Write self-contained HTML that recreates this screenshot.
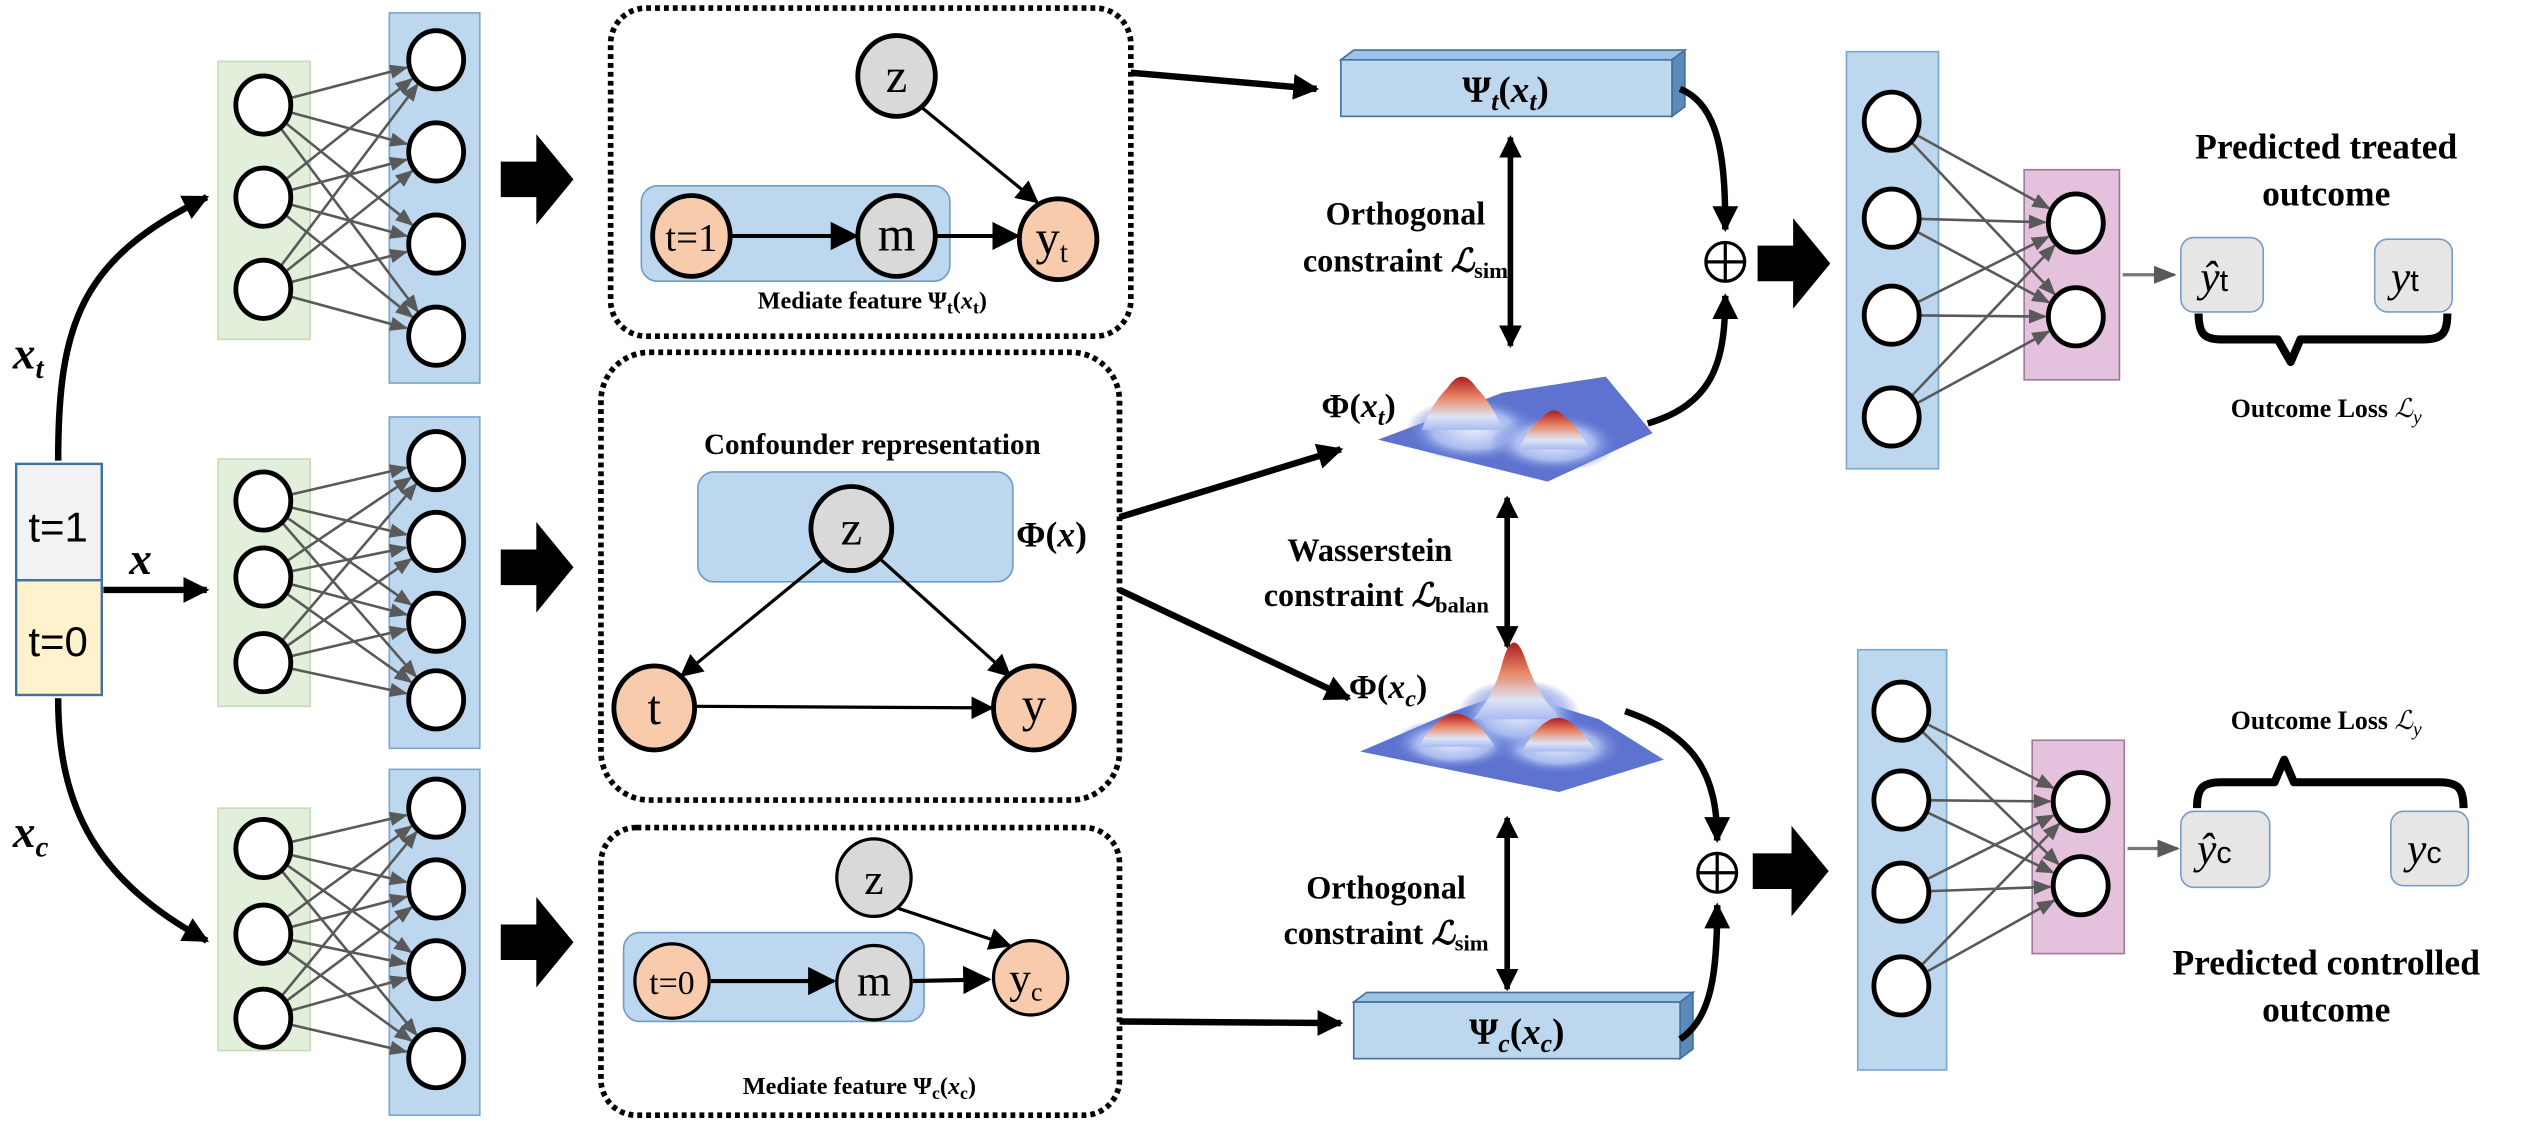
<!DOCTYPE html>
<html><head><meta charset="utf-8"><style>
html,body{margin:0;padding:0;background:#fff;}
svg{display:block;}
text{font-family:"Liberation Serif",serif;font-weight:bold;fill:#000;}
.it{font-style:italic;}
.n{font-weight:normal;}
</style></head><body>
<svg id="s" width="2533" height="1133" viewBox="0 0 1568 701" preserveAspectRatio="none" xmlns="http://www.w3.org/2000/svg">
<defs>
<marker id="ah" viewBox="0 0 10 10" refX="9" refY="5" markerWidth="4" markerHeight="4" orient="auto-start-reverse"><path d="M0,0L10,5L0,10z" fill="#000"/></marker>
<marker id="ahs" viewBox="0 0 10 10" refX="9" refY="5" markerWidth="7" markerHeight="7" orient="auto"><path d="M0,0L10,5L0,10z" fill="#000"/></marker>
<marker id="ag" viewBox="0 0 10 10" refX="9" refY="5" markerWidth="7" markerHeight="7" orient="auto"><path d="M0,1L10,5L0,9z" fill="#595959"/></marker>
<linearGradient id="pk" x1="0" y1="0" x2="0" y2="1"><stop offset="0" stop-color="#b01c1c"/><stop offset="0.4" stop-color="#e8896a"/><stop offset="0.75" stop-color="#dde4f5"/><stop offset="1" stop-color="#a9baf0"/></linearGradient>
<radialGradient id="gl" cx="0.5" cy="0.5" r="0.5"><stop offset="0" stop-color="#e4ecfb"/><stop offset="0.6" stop-color="#a8baf0"/><stop offset="1" stop-color="#5d73cf" stop-opacity="0"/></radialGradient>
</defs>

<rect x="10" y="287" width="53" height="72" fill="#f2f2f2" stroke="#41719c" stroke-width="1.5"/>
<rect x="10" y="359" width="53" height="71" fill="#fff2cc" stroke="#41719c" stroke-width="1.5"/>
<text x="36" y="335" text-anchor="middle" font-size="26" style="font-family:'Liberation Sans',sans-serif;font-weight:normal">t=1</text>
<text x="36" y="406" text-anchor="middle" font-size="26" style="font-family:'Liberation Sans',sans-serif;font-weight:normal">t=0</text>

<path d="M36,285 C36,200 50,160 128,122" fill="none" stroke="#000" stroke-width="4" marker-end="url(#ah)"/>
<path d="M36,432 C36,500 60,545 128,582" fill="none" stroke="#000" stroke-width="4" marker-end="url(#ah)"/>
<path d="M64,365 L128,365" fill="none" stroke="#000" stroke-width="4" marker-end="url(#ah)"/>
<text x="8" y="228" class="it" font-size="28">x<tspan font-size="18" dy="6">t</tspan></text>
<text x="80" y="355" class="it" font-size="28">x</text>
<text x="8" y="524" class="it" font-size="28">x<tspan font-size="18" dy="6">c</tspan></text>

<g id="nets"></g>

<g fill="#000">
<path d="M310,100 h22 v-17 l23,28 l-23,28 v-17 h-22z"/>
<path d="M310,340 h22 v-17 l23,28 l-23,28 v-17 h-22z"/>
<path d="M310,572 h22 v-17 l23,28 l-23,28 v-17 h-22z"/>
<path d="M1088,152 h22 v-17 l23,28 l-23,28 v-17 h-22z"/>
<path d="M1085,528 h24 v-17 l23,28 l-23,28 v-17 h-24z"/>
</g>

<g fill="none" stroke="#000" stroke-width="3.5" stroke-dasharray="3,2.5">
<rect x="378" y="5" width="322" height="203" rx="22"/>
<rect x="372" y="218" width="321" height="277" rx="30"/>
<rect x="372" y="512" width="321" height="178" rx="22"/>
</g>

<rect x="397" y="115" width="191" height="59" rx="10" fill="#bdd7ee" stroke="#6f9ccc" stroke-width="1"/>
<line x1="570" y1="66" x2="642" y2="125" stroke="#000" stroke-width="2" marker-end="url(#ahs)"/>
<line x1="452" y1="146" x2="530" y2="146" stroke="#000" stroke-width="2.5" marker-end="url(#ahs)"/>
<line x1="580" y1="146" x2="630" y2="146" stroke="#000" stroke-width="2.5" marker-end="url(#ahs)"/>
<ellipse cx="555" cy="47" rx="24" ry="25" fill="#d9d9d9" stroke="#000" stroke-width="3"/>
<ellipse cx="428" cy="146" rx="24" ry="25" fill="#f8cbad" stroke="#000" stroke-width="3"/>
<ellipse cx="555" cy="146" rx="24" ry="25" fill="#d9d9d9" stroke="#000" stroke-width="3"/>
<ellipse cx="655" cy="148" rx="24" ry="25" fill="#f8cbad" stroke="#000" stroke-width="3"/>
<text x="555" y="57" text-anchor="middle" font-size="30" class="n">z</text>
<text x="428" y="155" text-anchor="middle" font-size="24" class="n">t=1</text>
<text x="555" y="155" text-anchor="middle" font-size="30" class="n">m</text>
<text x="651" y="157" text-anchor="middle" font-size="30" class="n">y<tspan font-size="18" dy="5">t</tspan></text>
<text x="540" y="191" text-anchor="middle" font-size="15">Mediate feature Ψ<tspan font-size="11" dy="3">t</tspan><tspan dy="-3">(</tspan><tspan class="it">x</tspan><tspan font-size="11" dy="3">t</tspan><tspan dy="-3">)</tspan></text>

<text x="540" y="281" text-anchor="middle" font-size="18">Confounder representation</text>
<rect x="432" y="292" width="195" height="68" rx="10" fill="#bdd7ee" stroke="#6f9ccc" stroke-width="1"/>
<line x1="510" y1="346" x2="422" y2="418" stroke="#000" stroke-width="2" marker-end="url(#ahs)"/>
<line x1="545" y1="346" x2="625" y2="418" stroke="#000" stroke-width="2" marker-end="url(#ahs)"/>
<line x1="430" y1="437" x2="614" y2="438" stroke="#000" stroke-width="2" marker-end="url(#ahs)"/>
<ellipse cx="527" cy="327" rx="25" ry="26" fill="#d9d9d9" stroke="#000" stroke-width="3"/>
<ellipse cx="405" cy="438" rx="25" ry="26" fill="#f8cbad" stroke="#000" stroke-width="3"/>
<ellipse cx="640" cy="438" rx="25" ry="26" fill="#f8cbad" stroke="#000" stroke-width="3"/>
<text x="527" y="337" text-anchor="middle" font-size="30" class="n">z</text>
<text x="405" y="448" text-anchor="middle" font-size="30" class="n">t</text>
<text x="640" y="446" text-anchor="middle" font-size="30" class="n">y</text>
<text x="629" y="338" font-size="22">Φ(<tspan class="it">x</tspan>)</text>

<rect x="386" y="577" width="186" height="55" rx="10" fill="#bdd7ee" stroke="#6f9ccc" stroke-width="1"/>
<line x1="556" y1="562" x2="625" y2="585" stroke="#000" stroke-width="2" marker-end="url(#ahs)"/>
<line x1="440" y1="607" x2="516" y2="607" stroke="#000" stroke-width="2.5" marker-end="url(#ahs)"/>
<line x1="565" y1="607" x2="612" y2="606" stroke="#000" stroke-width="2.5" marker-end="url(#ahs)"/>
<ellipse cx="541" cy="543" rx="23" ry="24" fill="#d9d9d9" stroke="#000" stroke-width="2"/>
<ellipse cx="416" cy="607" rx="23" ry="23" fill="#f8cbad" stroke="#000" stroke-width="2"/>
<ellipse cx="541" cy="608" rx="23" ry="23" fill="#d9d9d9" stroke="#000" stroke-width="2"/>
<ellipse cx="638" cy="605" rx="23" ry="23" fill="#f8cbad" stroke="#000" stroke-width="2"/>
<text x="541" y="553" text-anchor="middle" font-size="27" class="n">z</text>
<text x="416" y="615" text-anchor="middle" font-size="21" class="n">t=0</text>
<text x="541" y="616" text-anchor="middle" font-size="27" class="n">m</text>
<text x="635" y="614" text-anchor="middle" font-size="27" class="n">y<tspan font-size="16" dy="5">c</tspan></text>
<text x="532" y="677" text-anchor="middle" font-size="15">Mediate feature  Ψ<tspan font-size="11" dy="3">c</tspan><tspan dy="-3">(</tspan><tspan class="it">x</tspan><tspan font-size="11" dy="3">c</tspan><tspan dy="-3">)</tspan></text>

<path d="M700,45 L815,55" stroke="#000" stroke-width="4" fill="none" marker-end="url(#ah)"/>
<path d="M693,632 L830,633" stroke="#000" stroke-width="4" fill="none" marker-end="url(#ah)"/>
<path d="M693,320 L830,278" stroke="#000" stroke-width="4" fill="none" marker-end="url(#ah)"/>
<path d="M693,365 L835,432" stroke="#000" stroke-width="4" fill="none" marker-end="url(#ah)"/>

<g stroke="#41719c" stroke-width="1">
<path d="M830,37 l8,-6 h205 l-8,6z" fill="#9dc3e6"/>
<path d="M1035,37 l8,-6 v35 l-8,6z" fill="#5b8ab8"/>
<rect x="830" y="37" width="205" height="35" fill="#bdd7ee"/>
<path d="M838,620 l8,-6 h202 l-8,6z" fill="#9dc3e6"/>
<path d="M1040,620 l8,-6 v35 l-8,6z" fill="#5b8ab8"/>
<rect x="838" y="620" width="202" height="35" fill="#bdd7ee"/>
</g>
<text x="932" y="63" text-anchor="middle" font-size="23">Ψ<tspan class="it" font-size="16" dy="5">t</tspan><tspan dy="-5">(</tspan><tspan class="it">x</tspan><tspan class="it" font-size="16" dy="5">t</tspan><tspan dy="-5">)</tspan></text>
<text x="939" y="646" text-anchor="middle" font-size="23">Ψ<tspan class="it" font-size="16" dy="5">c</tspan><tspan dy="-5">(</tspan><tspan class="it">x</tspan><tspan class="it" font-size="16" dy="5">c</tspan><tspan dy="-5">)</tspan></text>

<g>
<path d="M853,272 L930,243 L994,233 L1023,268 L958,298 Z" fill="#5d73cf"/>
<ellipse cx="912" cy="266" rx="42" ry="20" fill="url(#gl)"/>
<ellipse cx="962" cy="274" rx="40" ry="18" fill="url(#gl)"/>
<path d="M880,266 Q886,250 896,240 Q905,226 914,240 Q924,250 930,266 Z" fill="url(#pk)"/>
<path d="M940,278 Q946,265 955,258 Q962,250 969,258 Q978,265 984,278 Z" fill="url(#pk)"/>

<path d="M842,465 L900,440 L935,428 L990,445 L1030,470 L965,490 Z" fill="#5d73cf"/>
<ellipse cx="900" cy="460" rx="38" ry="16" fill="url(#gl)"/>
<ellipse cx="965" cy="462" rx="40" ry="17" fill="url(#gl)"/>
<ellipse cx="940" cy="442" rx="38" ry="22" fill="url(#gl)"/>
<path d="M912,445 Q925,430 930,410 Q937,385 945,410 Q952,430 966,445 Z" fill="url(#pk)"/>
<path d="M878,462 Q888,445 898,442 Q906,440 914,448 Q922,455 925,462 Z" fill="url(#pk)"/>
<path d="M942,465 Q950,450 960,445 Q968,442 976,450 Q984,458 988,465 Z" fill="url(#pk)"/>
</g>
<text x="818" y="258" font-size="21">Φ(<tspan class="it">x</tspan><tspan class="it" font-size="15" dy="5">t</tspan><tspan dy="-5">)</tspan></text>
<text x="835" y="432" font-size="21">Φ(<tspan class="it">x</tspan><tspan class="it" font-size="15" dy="5">c</tspan><tspan dy="-5">)</tspan></text>

<g stroke="#000" stroke-width="3.5" fill="none">
<line x1="935" y1="85" x2="935" y2="214" marker-start="url(#ah)" marker-end="url(#ah)"/>
<line x1="933" y1="308" x2="933" y2="400" marker-start="url(#ah)" marker-end="url(#ah)"/>
<line x1="933" y1="506" x2="933" y2="612" marker-start="url(#ah)" marker-end="url(#ah)"/>
</g>
<text x="870" y="139" text-anchor="middle" font-size="20">Orthogonal</text>
<text x="870" y="168" text-anchor="middle" font-size="20">constraint <tspan class="it">ℒ</tspan><tspan font-size="14" dy="4">sim</tspan></text>
<text x="848" y="347" text-anchor="middle" font-size="20">Wasserstein</text>
<text x="852" y="375" text-anchor="middle" font-size="20">constraint  <tspan class="it">ℒ</tspan><tspan font-size="14" dy="4">balan</tspan></text>
<text x="858" y="556" text-anchor="middle" font-size="20">Orthogonal</text>
<text x="858" y="584" text-anchor="middle" font-size="20">constraint <tspan class="it">ℒ</tspan><tspan font-size="14" dy="4">sim</tspan></text>

<g stroke="#000" stroke-width="4" fill="none">
<path d="M1040,55 C1065,65 1068,100 1068,142" marker-end="url(#ah)"/>
<path d="M1020,262 C1060,250 1068,225 1068,183" marker-end="url(#ah)"/>
<path d="M1006,440 C1050,455 1063,480 1063,520" marker-end="url(#ah)"/>
<path d="M1040,643 C1060,630 1063,600 1063,560" marker-end="url(#ah)"/>
</g>
<g stroke="#000" stroke-width="2" fill="#fff">
<circle cx="1068" cy="162" r="12"/><line x1="1056" y1="162" x2="1080" y2="162"/><line x1="1068" y1="150" x2="1068" y2="174"/>
<circle cx="1063" cy="540" r="12"/><line x1="1051" y1="540" x2="1075" y2="540"/><line x1="1063" y1="528" x2="1063" y2="552"/>
</g>

<g stroke="#777" stroke-width="2" fill="none">
<line x1="1314" y1="170" x2="1346" y2="170" marker-end="url(#ag)"/>
<line x1="1317" y1="525" x2="1348" y2="525" marker-end="url(#ag)"/>
</g>
<g fill="#e7e6e6" stroke="#7a9cc4" stroke-width="1">
<rect x="1350" y="147" width="51" height="46" rx="8"/>
<rect x="1470" y="148" width="48" height="45" rx="8"/>
<rect x="1350" y="502" width="55" height="47" rx="8"/>
<rect x="1480" y="502" width="48" height="46" rx="8"/>
</g>
<g font-size="27">
<text x="1362" y="180" class="it n">ŷ<tspan font-size="19" font-style="normal" style="font-family:'Liberation Sans'">t</tspan></text>
<text x="1480" y="180" class="it n">y<tspan font-size="19" font-style="normal" style="font-family:'Liberation Sans'">t</tspan></text>
<text x="1360" y="534" class="it n">ŷ<tspan font-size="19" font-style="normal" style="font-family:'Liberation Sans'">c</tspan></text>
<text x="1490" y="534" class="it n">y<tspan font-size="19" font-style="normal" style="font-family:'Liberation Sans'">c</tspan></text>
</g>
<g stroke="#000" stroke-width="5" fill="none" stroke-linejoin="round">
<path d="M1361,194 C1361,206 1364,210 1375,210 L1410,210 L1418,224 L1424,210 L1500,210 C1512,210 1515,206 1515,194"/>
<path d="M1360,500 C1360,488 1363,484 1375,484 L1408,484 L1414,470 L1420,484 L1510,484 C1522,484 1525,488 1525,500"/>
</g>
<text x="1440" y="98" text-anchor="middle" font-size="22">Predicted treated</text>
<text x="1440" y="127" text-anchor="middle" font-size="22">outcome</text>
<text x="1440" y="258" text-anchor="middle" font-size="16">Outcome Loss <tspan class="it n">ℒ<tspan font-size="12" dy="4">y</tspan></tspan></text>
<text x="1440" y="451" text-anchor="middle" font-size="16">Outcome Loss <tspan class="it n">ℒ<tspan font-size="12" dy="4">y</tspan></tspan></text>
<text x="1440" y="603" text-anchor="middle" font-size="22">Predicted controlled</text>
<text x="1440" y="632" text-anchor="middle" font-size="22">outcome</text>
</svg>
<script>
(function(){
var ns="http://www.w3.org/2000/svg",g=document.getElementById("nets");
function el(t,a){var e=document.createElementNS(ns,t);for(var k in a)e.setAttribute(k,a[k]);g.appendChild(e);return e;}
function net(lx,ly,lw,lh,lc,lfill,lstroke,rx,ry,rw,rh,rc,rfill,rstroke,lcx,rcx){
 el("rect",{x:lx,y:ly,width:lw,height:lh,fill:lfill,stroke:lstroke,"stroke-width":1});
 el("rect",{x:rx,y:ry,width:rw,height:rh,fill:rfill,stroke:rstroke,"stroke-width":1});
 lc.forEach(function(a){rc.forEach(function(b){
  var dx=rcx-lcx,dy=b-a,L=Math.sqrt(dx*dx+dy*dy);
  el("line",{x1:lcx+18*dx/L,y1:a+18*dy/L,x2:rcx-19*dx/L,y2:b-19*dy/L,stroke:"#595959","stroke-width":1.6,"marker-end":"url(#ag)"});
 });});
 lc.forEach(function(a){el("ellipse",{cx:lcx,cy:a,rx:17,ry:18,fill:"#fff",stroke:"#000","stroke-width":3});});
 rc.forEach(function(a){el("ellipse",{cx:rcx,cy:a,rx:17,ry:18,fill:"#fff",stroke:"#000","stroke-width":3});});
}
var G="#e2efda",GS="#c5dcb8",B="#bdd7ee",BS="#7aa6d0",P="#e4c1dc",PS="#a07898";
net(135,38,57,172,[65,122,179],G,GS,241,8,56,229,[37,94,151,208],B,BS,163,270);
net(135,284,57,153,[310,357,410],G,GS,241,258,56,205,[285,335,385,433],B,BS,163,270);
net(135,500,57,150,[525,578,630],G,GS,241,476,56,214,[500,550,600,655],B,BS,163,270);
net(1143,32,57,258,[75,135,195,258],B,BS,1253,105,59,130,[138,196],P,PS,1171,1285);
net(1150,402,55,260,[440,495,552,610],B,BS,1258,458,57,132,[496,548],P,PS,1177,1288);
})();
</script>
</body></html>
